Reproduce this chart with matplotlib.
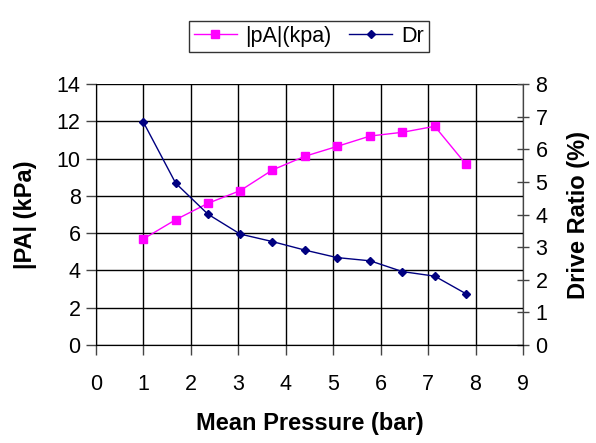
import matplotlib.pyplot as plt
from matplotlib.lines import Line2D

plt.rcParams['font.family'] = ['Liberation Sans', 'DejaVu Sans']

# mean pressure (bar)
p_mean = [1.0, 1.68, 2.36, 3.04, 3.72, 4.4, 5.08, 5.78, 6.46, 7.14, 7.8]
# |pA| (kPa)
pa = [5.69, 6.72, 7.6, 8.28, 9.39, 10.12, 10.65, 11.21, 11.41, 11.73, 9.69]
# drive ratio (%)
dr = [6.83, 4.96, 4.01, 3.40, 3.17, 2.91, 2.68, 2.58, 2.25, 2.11, 1.57]

fig = plt.figure(figsize=(5.96, 4.43), dpi=100)
ax = fig.add_axes([0.161, 0.2212, 0.7165, 0.5892])
ax2 = ax.twinx()

ax.plot(p_mean, pa, color='#ff00ff', lw=1, marker='s', ms=5.5, label='|pA|(kpa)')
ax2.plot(p_mean, dr, color='#000080', lw=1, marker='D', ms=4.5, label='Dr')

ax.set_xlim(0, 9)
ax.set_ylim(0, 14)
ax2.set_ylim(0, 8)
ax.set_xticks(range(0, 10))
ax.set_yticks(range(0, 15, 2))
ax2.set_yticks(range(0, 9))

ax.grid(True, color='black', lw=1)
ax.set_axisbelow(True)
ax.spines['top'].set_visible(False)
ax2.spines['top'].set_visible(False)
ax.spines['bottom'].set_color('#444444')
ax.spines['left'].set_color('#444444')
ax2.spines['right'].set_color('#444444')

ax.tick_params(axis='both', direction='out', length=7, width=1, labelsize=15.5, color='#444444')
ax2.tick_params(axis='y', direction='inout', length=8, width=1, labelsize=15.5, color='#444444', pad=5)
ax.tick_params(axis='x', pad=14)
ax.tick_params(axis='y', pad=4)

ax.set_xlabel('Mean Pressure (bar)', fontsize=17, fontweight='bold', labelpad=12)
ax.set_ylabel('|PA| (kPa)', fontsize=17, fontweight='bold', labelpad=14)
ax2.set_ylabel('Drive Ratio (%)', fontsize=17, fontweight='bold', labelpad=14)

handles = [Line2D([], [], color='#ff00ff', lw=1, marker='s', ms=5.5),
           Line2D([], [], color='#000080', lw=1, marker='D', ms=4.5)]
fig.legend(handles, ['|pA|(kpa)', 'Dr'], loc='upper center', bbox_to_anchor=(0.518, 0.978),
           ncol=2, fontsize=15.5, frameon=True, fancybox=False, edgecolor='black',
           handlelength=2.0, columnspacing=0.8, handletextpad=0.4, borderpad=0.25)

fig.savefig('out.png', dpi=100)
